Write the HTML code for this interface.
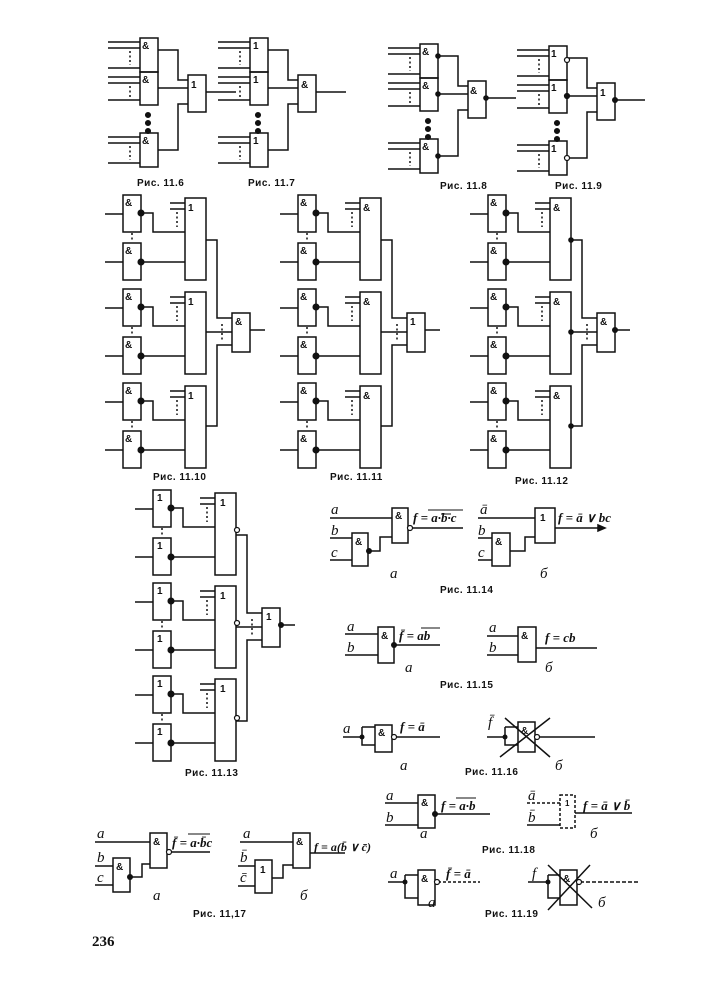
<!DOCTYPE html>
<html><head><meta charset="utf-8"><style>
html,body{margin:0;padding:0;background:#fff;}
svg{display:block;}
text{font-family:"Liberation Sans",sans-serif;fill:#111;}
.g{font-size:10px;font-weight:bold;}
.cap{font-size:10px;font-weight:bold;letter-spacing:0.5px;}
.it{font-family:"Liberation Serif",serif;font-style:italic;font-size:15px;}
.f{font-family:"Liberation Serif",serif;font-style:italic;font-size:13px;font-weight:bold;}
</style></head><body>
<svg width="707" height="1000" viewBox="0 0 707 1000" xmlns="http://www.w3.org/2000/svg">
<defs>
<g id="top" fill="none" stroke="#111" stroke-width="1.5">
 <rect x="32" y="8" width="18" height="34"/><rect x="32" y="42" width="18" height="33"/>
 <rect x="32" y="103" width="18" height="34"/><rect x="80" y="45" width="18" height="37"/>
 <path d="M0 12H32M0 18H32M0 38H32M0 47H32M0 53H32M0 70H32M0 107H32M0 113H32M0 133H32"/>
 <path d="M22 21V35M22 56V68M22 116V130" stroke-dasharray="2 2.5"/>
 <path d="M50 20H70V50H80M50 58H80M50 120H70V74H80M98 62H128"/>
 <circle cx="40" cy="85" r="2.3" fill="#111"/><circle cx="40" cy="93" r="2.3" fill="#111"/><circle cx="40" cy="101" r="2.3" fill="#111"/>
</g>
<g id="mid" fill="none" stroke="#111" stroke-width="1.5">
 <rect x="18" y="5" width="18" height="37"/><rect x="18" y="53" width="18" height="37"/>
 <rect x="80" y="8" width="21" height="82"/>
 <path d="M0 24H18M0 72H18M36 23H48V42H80M36 72H80M65 13H80M65 19H80"/>
 <path d="M27 43V52M72 22V37" stroke-dasharray="2 2.5"/>
 <circle cx="36" cy="23" r="2.8" fill="#111"/><circle cx="36" cy="72" r="2.8" fill="#111"/>
</g>
<g id="fin" fill="none" stroke="#111" stroke-width="1.5">
 <path d="M101 50H112V128H127M101 142H127M101 236H112V155H127M145 140H160"/>
 <path d="M117 134V150" stroke-dasharray="2 2.5"/>
 <rect x="127" y="123" width="18" height="39"/>
</g>
</defs>

<use href="#top" x="108" y="30"/>
<text class="g" x="142" y="49">&amp;</text><text class="g" x="142" y="83">&amp;</text><text class="g" x="142" y="144">&amp;</text><text class="g" x="191" y="88">1</text>
<text class="cap" x="137" y="186">Рис. 11.6</text>

<use href="#top" x="218" y="30"/>
<text class="g" x="253" y="49">1</text><text class="g" x="253" y="83">1</text><text class="g" x="253" y="144">1</text><text class="g" x="301" y="88">&amp;</text>
<text class="cap" x="248" y="186">Рис. 11.7</text>

<use href="#top" x="388" y="36"/>
<g fill="#111"><circle cx="438" cy="56" r="2.8"/><circle cx="438" cy="94" r="2.8"/><circle cx="438" cy="156" r="2.8"/><circle cx="486" cy="98" r="2.8"/></g>
<text class="g" x="422" y="55">&amp;</text><text class="g" x="422" y="89">&amp;</text><text class="g" x="422" y="150">&amp;</text><text class="g" x="470" y="94">&amp;</text>
<text class="cap" x="440" y="189">Рис. 11.8</text>

<use href="#top" x="517" y="38"/>
<g stroke="#111" stroke-width="1.2" fill="#fff"><circle cx="567" cy="60" r="2.5"/><circle cx="567" cy="96" r="2.5" fill="#111"/><circle cx="567" cy="158" r="2.5"/></g>
<circle cx="615" cy="100" r="3" fill="#111"/>
<text class="g" x="551" y="57">1</text><text class="g" x="551" y="91">1</text><text class="g" x="551" y="152">1</text><text class="g" x="600" y="96">1</text>
<text class="cap" x="555" y="189">Рис. 11.9</text>

<use href="#mid" x="105" y="190"/><use href="#mid" x="105" y="284"/><use href="#mid" x="105" y="378"/><use href="#fin" x="105" y="190"/>
<text class="g" x="125" y="206">&amp;</text><text class="g" x="125" y="254">&amp;</text><text class="g" x="188" y="211">1</text>
<text class="g" x="125" y="300">&amp;</text><text class="g" x="125" y="348">&amp;</text><text class="g" x="188" y="305">1</text>
<text class="g" x="125" y="394">&amp;</text><text class="g" x="125" y="442">&amp;</text><text class="g" x="188" y="399">1</text>
<text class="g" x="235" y="325">&amp;</text>
<text class="cap" x="153" y="480">Рис. 11.10</text>

<use href="#mid" x="280" y="190"/><use href="#mid" x="280" y="284"/><use href="#mid" x="280" y="378"/><use href="#fin" x="280" y="190"/>
<text class="g" x="300" y="206">&amp;</text><text class="g" x="300" y="254">&amp;</text><text class="g" x="363" y="211">&amp;</text>
<text class="g" x="300" y="300">&amp;</text><text class="g" x="300" y="348">&amp;</text><text class="g" x="363" y="305">&amp;</text>
<text class="g" x="300" y="394">&amp;</text><text class="g" x="300" y="442">&amp;</text><text class="g" x="363" y="399">&amp;</text>
<text class="g" x="410" y="325">1</text>
<text class="cap" x="330" y="480">Рис. 11.11</text>

<use href="#mid" x="470" y="190"/><use href="#mid" x="470" y="284"/><use href="#mid" x="470" y="378"/><use href="#fin" x="470" y="190"/>
<g fill="#111"><circle cx="571" cy="240" r="2.8"/><circle cx="571" cy="332" r="2.8"/><circle cx="571" cy="426" r="2.8"/><circle cx="615" cy="330" r="3"/></g>
<text class="g" x="490" y="206">&amp;</text><text class="g" x="490" y="254">&amp;</text><text class="g" x="553" y="211">&amp;</text>
<text class="g" x="490" y="300">&amp;</text><text class="g" x="490" y="348">&amp;</text><text class="g" x="553" y="305">&amp;</text>
<text class="g" x="490" y="394">&amp;</text><text class="g" x="490" y="442">&amp;</text><text class="g" x="553" y="399">&amp;</text>
<text class="g" x="600" y="325">&amp;</text>
<text class="cap" x="515" y="484">Рис. 11.12</text>

<use href="#mid" x="135" y="485"/><use href="#mid" x="135" y="578"/><use href="#mid" x="135" y="671"/><use href="#fin" x="135" y="485"/>
<g stroke="#111" stroke-width="1.2" fill="#fff"><circle cx="237" cy="530" r="2.5"/><circle cx="237" cy="623" r="2.5"/><circle cx="237" cy="718" r="2.5"/></g>
<circle cx="281" cy="625" r="3" fill="#111"/>
<text class="g" x="157" y="501">1</text><text class="g" x="157" y="549">1</text><text class="g" x="220" y="506">1</text>
<text class="g" x="157" y="594">1</text><text class="g" x="157" y="642">1</text><text class="g" x="220" y="599">1</text>
<text class="g" x="157" y="687">1</text><text class="g" x="157" y="735">1</text><text class="g" x="220" y="692">1</text>
<text class="g" x="266" y="620">1</text>
<text class="cap" x="185" y="776">Рис. 11.13</text>

<g fill="none" stroke="#111" stroke-width="1.5">
<path d="M330 518H392M330 538H352M330 560H352M369 551H380V537H392M411 528H463"/>
<rect x="392" y="508" width="16" height="35"/><rect x="352" y="533" width="16" height="33"/>
<path d="M478 518H535M478 538H492M478 560H492M510 551H525V537H535M555 528H600"/>
<path d="M598 525L605 528L598 531Z" fill="#111"/>
<rect x="535" y="508" width="20" height="35"/><rect x="492" y="533" width="18" height="33"/>
<path d="M345 634H378M345 655H378M394 645H440"/><rect x="378" y="627" width="16" height="36"/>
<path d="M487 636H518M487 655H518M536 648H597"/><rect x="518" y="627" width="18" height="35"/>
<path d="M343 737H362M362 727H375M362 727V745H375M395 737H440"/><rect x="375" y="725" width="17" height="27"/>
<path d="M487 737H505M505 727H518M505 727V745H518M538 737H595"/><rect x="518" y="722" width="17" height="30"/>
<path d="M505 718L550 757M550 718L500 757"/>
<path d="M95 842H150M95 866H113M95 885H113M130 877H142V864H150M170 852H210"/>
<rect x="150" y="833" width="17" height="35"/><rect x="113" y="858" width="17" height="34"/>
<path d="M240 842H293M238 866H255M238 886H255M272 878H283V865H293M310 853H345"/>
<rect x="293" y="833" width="17" height="35"/><rect x="255" y="860" width="17" height="33"/>
<path d="M385 803H418M385 825H418M435 814H490"/><rect x="418" y="795" width="17" height="33"/>
<path d="M527 803H560" stroke-dasharray="3 2"/><path d="M527 825H560M575 813H632"/>
<rect x="560" y="795" width="15" height="33" stroke-dasharray="3 2"/>
<path d="M388 882H405M405 875H418M405 875V898H418"/><path d="M438 882H480" stroke-dasharray="3 2"/>
<rect x="418" y="870" width="17" height="35"/>
<path d="M528 882H548M548 875H560M548 875V898H560"/><path d="M580 882H638" stroke-dasharray="4 2"/>
<rect x="560" y="870" width="17" height="35"/><path d="M548 865L592 908M590 865L548 910"/>
</g>
<g fill="#111">
<circle cx="369" cy="551" r="3"/><circle cx="394" cy="645" r="3"/>
<circle cx="362" cy="737" r="2.5"/><circle cx="505" cy="737" r="2.5"/><circle cx="130" cy="877" r="3"/>
<circle cx="435" cy="814" r="3"/><circle cx="405" cy="882" r="2.5"/><circle cx="548" cy="882" r="2.5"/>
</g>
<g fill="#fff" stroke="#111" stroke-width="1.2">
<circle cx="410" cy="528" r="2.5"/><circle cx="394" cy="737" r="2.5"/><circle cx="537" cy="737" r="2.5"/>
<circle cx="169" cy="852" r="2.5"/><circle cx="437" cy="882" r="2.5"/><circle cx="579" cy="882" r="2.5"/>
</g>
<text class="g" x="395" y="519">&amp;</text><text class="g" x="355" y="545">&amp;</text>
<text class="g" x="540" y="521">1</text><text class="g" x="495" y="545">&amp;</text>
<text class="g" x="381" y="639">&amp;</text><text class="g" x="521" y="639">&amp;</text>
<text class="g" x="378" y="736">&amp;</text><text class="g" x="521" y="734">&amp;</text>
<text class="g" x="153" y="845">&amp;</text><text class="g" x="116" y="870">&amp;</text>
<text class="g" x="296" y="845">&amp;</text><text class="g" x="260" y="873">1</text>
<text class="g" x="421" y="806">&amp;</text><text class="g" x="565" y="806" style="font-size:8px">1</text>
<text class="g" x="421" y="882">&amp;</text><text class="g" x="563" y="882">&amp;</text>
<text class="it" x="331" y="514">a</text><text class="it" x="331" y="535">b</text><text class="it" x="331" y="557">c</text>
<text class="f" x="413" y="522">f = a·b·c</text><path d="M428 510H463M441 514H451" stroke="#111" stroke-width="1"/>
<text class="it" x="390" y="578">a</text>
<text class="it" x="480" y="514">ā</text><text class="it" x="478" y="535">b</text><text class="it" x="478" y="557">c</text>
<text class="f" x="558" y="522">f = ā ∨ bc</text><text class="it" x="540" y="578">б</text>
<text class="cap" x="440" y="593">Рис. 11.14</text>
<text class="it" x="347" y="631">a</text><text class="it" x="347" y="652">b</text>
<text class="f" x="399" y="640">f̄ = ab</text><path d="M421 628H440" stroke="#111" stroke-width="1"/>
<text class="it" x="405" y="672">a</text>
<text class="it" x="489" y="632">a</text><text class="it" x="489" y="652">b</text>
<text class="f" x="545" y="642">f = cb</text><text class="it" x="545" y="672">б</text>
<text class="cap" x="440" y="688">Рис. 11.15</text>
<text class="it" x="343" y="733">a</text><text class="f" x="400" y="731">f = ā</text><text class="it" x="400" y="770">a</text>
<text class="it" x="488" y="727">f̄</text><text class="it" x="555" y="770">б</text>
<text class="cap" x="465" y="775">Рис. 11.16</text>
<text class="it" x="97" y="838">a</text><text class="it" x="97" y="862">b</text><text class="it" x="97" y="882">c</text>
<text class="f" x="172" y="847">f̄ = a·b̄c</text><path d="M188 834H210" stroke="#111" stroke-width="1"/>
<text class="it" x="153" y="900">a</text>
<text class="it" x="243" y="838">a</text><text class="it" x="240" y="862">b̄</text><text class="it" x="240" y="882">c̄</text>
<text class="f" x="314" y="851" style="font-size:12px">f = a(b̄ ∨ c̄)</text><text class="it" x="300" y="900">б</text>
<text class="cap" x="193" y="917">Рис. 11,17</text>
<text class="it" x="386" y="800">a</text><text class="it" x="386" y="822">b</text>
<text class="f" x="441" y="810">f = a·b</text><path d="M456 798H476" stroke="#111" stroke-width="1"/>
<text class="it" x="420" y="838">a</text>
<text class="it" x="528" y="800">ā</text><text class="it" x="528" y="822">b̄</text>
<text class="f" x="583" y="810">f = ā ∨ b̄</text><text class="it" x="590" y="838">б</text>
<text class="cap" x="482" y="853">Рис. 11.18</text>
<text class="it" x="390" y="878">a</text><text class="f" x="446" y="878">f̄ = ā</text><text class="it" x="428" y="907">a</text>
<text class="it" x="532" y="878">f</text><text class="it" x="598" y="907">б</text>
<text class="cap" x="485" y="917">Рис. 11.19</text>
<text x="92" y="946" style="font-family:'Liberation Serif',serif;font-weight:bold;font-size:15px">236</text>
</svg>
</body></html>
